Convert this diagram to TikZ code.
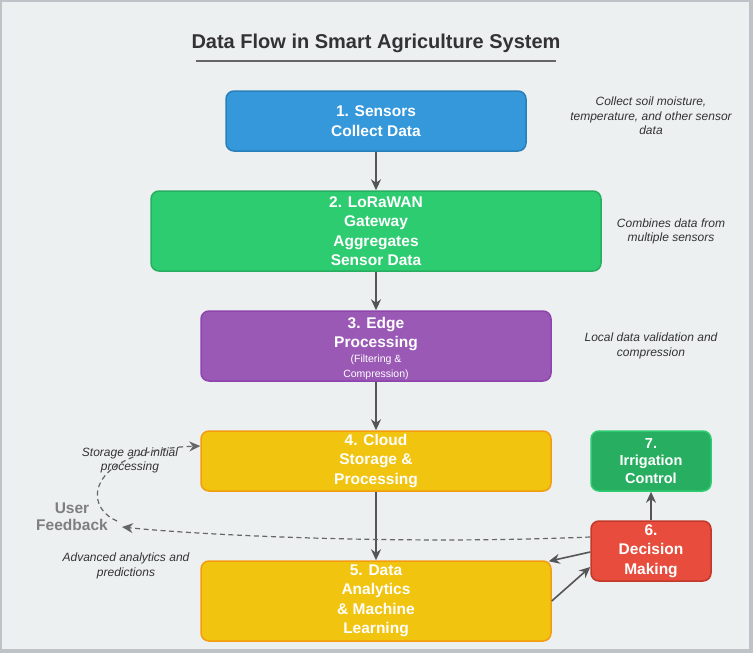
\documentclass[tikz,border=0pt]{standalone}
\usepackage{fontspec}
\setmainfont{Liberation Sans}
\usetikzlibrary{arrows.meta,calc}
\definecolor{bg}{HTML}{ECF0F1}
\definecolor{framec}{HTML}{BDC3C7}
\definecolor{titlec}{HTML}{333333}
\definecolor{notec}{HTML}{333333}
\definecolor{arrowc}{HTML}{555555}
\definecolor{dashc}{HTML}{666666}
\definecolor{fbc}{HTML}{7F7F7F}
\definecolor{cA}{HTML}{3498DB}\definecolor{cAb}{HTML}{2980B9}
\definecolor{cB}{HTML}{2ECC71}\definecolor{cBb}{HTML}{27AE60}
\definecolor{cC}{HTML}{9B59B6}\definecolor{cCb}{HTML}{8E44AD}
\definecolor{cD}{HTML}{F1C40F}\definecolor{cDb}{HTML}{F39C12}
\definecolor{cG}{HTML}{27AE60}\definecolor{cGb}{HTML}{2ECC71}
\definecolor{cR}{HTML}{E74C3C}\definecolor{cRb}{HTML}{C0392B}
\begin{document}
\begin{tikzpicture}[x=1pt,y=-1pt,
 box/.style={draw, line width=1.5pt, rounded corners=8pt, inner sep=0pt, align=center, text=white, font=\fontsize{15.5}{19.5}\selectfont\bfseries},
 boxtext/.style={inner sep=0pt, align=center, text=white, font=\fontsize{15.5}{19.5}\selectfont\bfseries},
 flow/.style={draw=arrowc, line width=1.6pt, -{Stealth[length=11pt,width=10pt]}},
 fb/.style={draw=dashc, line width=1.2pt, dash pattern=on 5pt off 3.5pt, -{Stealth[length=11pt,width=10pt]}},
 note/.style={align=center, text=notec, inner sep=0pt, font=\fontsize{12}{14.5}\selectfont\itshape}]
\fill[framec] (0,0) rectangle (753,653);
\fill[bg] (2,2) rectangle (749,649);
\useasboundingbox (0,0) rectangle (753,653);
% title
\node[text=titlec, font=\fontsize{20}{24}\selectfont\bfseries] (title) at (376,43) {Data Flow in Smart Agriculture System};
\draw[dashc, line width=1.5pt] (196,61) -- (556,61);
% boxes
\node[box, fill=cA, draw=cAb, minimum width=300pt, minimum height=60pt] (s1) at (376,121) {1. Sensors\\Collect Data};
\node[box, fill=cB, draw=cBb, minimum width=450pt, minimum height=80pt] (s2) at (376,231) {2. LoRaWAN\\Gateway\\Aggregates\\Sensor Data};
\node[box, fill=cC, draw=cCb, minimum width=350pt, minimum height=70pt] (s3) at (376,346) {};
\node[boxtext] (s3t) at (376,348.5) {3. Edge\\Processing\\[-5pt]{\fontsize{10.5}{14}\selectfont\mdseries (Filtering \&}\\[-4pt]{\fontsize{10.5}{14}\selectfont\mdseries Compression)}};
\node[box, fill=cD, draw=cDb, minimum width=350pt, minimum height=60pt] (s4) at (376,461) {4. Cloud\\Storage \&\\Processing};
\node[box, fill=cD, draw=cDb, minimum width=350pt, minimum height=80pt] (s5) at (376,601) {5. Data\\Analytics\\\& Machine\\Learning};
\node[box, fill=cG, draw=cGb, minimum width=120pt, minimum height=60pt, font=\fontsize{14.5}{17.5}\selectfont\bfseries] (s7) at (651,461) {7.\\Irrigation\\Control};
\node[box, fill=cR, draw=cRb, minimum width=120pt, minimum height=60pt] (s6) at (651,551) {6.\\Decision\\Making};
% notes
\node[note] (n1) at (651,116) {Collect soil moisture,\\temperature, and other sensor\\data};
\node[note] (n2) at (671,231.5) {Combines data from\\multiple sensors};
\node[note] (n3) at (651,346) {Local data validation and\\compression};
\node[note] (n4) at (130,460.5) {Storage and initial\\processing};
\node[note] (n5) at (126,566) {Advanced analytics and\\predictions};
\node[align=center, inner sep=0pt, text=fbc, font=\fontsize{15.5}{17}\selectfont\bfseries] (fbl) at (72,516.5) {User\\Feedback};
% main flow
\draw[flow] (s1) -- (s2);
\draw[flow] (s2) -- (s3);
\draw[flow] (s3) -- (s4);
\draw[flow] (s4) -- (s5);
\draw[flow] (s6) -- (s7);
\draw[flow] ($(s6.west)+(0,1)$) -- ($(s5.north east)+(-3,1)$);
\draw[flow] (s5.east) -- ($(s6.west)+(0,16)$);
% feedback
\coordinate (fbend) at (122,527);
\coordinate (fbstart) at (117,521);
\draw[fb] ($(s6.west)+(0,-14)$) .. controls (400,545) and (200,535) .. (fbend);
\draw[fb] (fbstart) .. controls (80,505) and (90,450) .. ($(s4.west)+(0,-15)$);
\end{tikzpicture}
\end{document}
